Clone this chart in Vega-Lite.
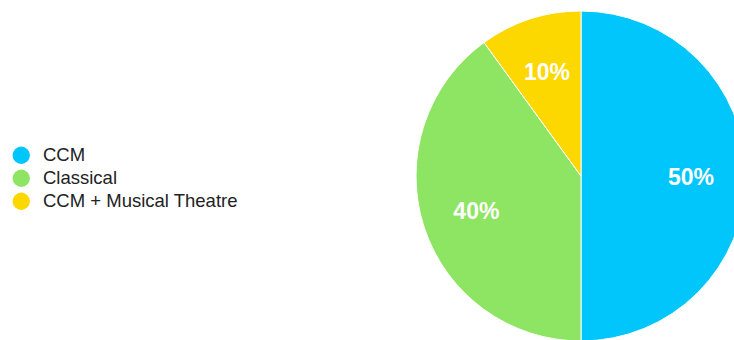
{
  "$schema": "https://vega.github.io/schema/vega-lite/v6.json",
  "width": 1162,
  "height": 352,
  "autosize": "none",
  "padding": 0,
  "background": "white",
  "config": {"view": {"stroke": null}, "font": "Liberation Sans"},
  "data": {"values": [
    {"genre": "CCM", "share": 50, "label": "50%", "ord": 1},
    {"genre": "Classical", "share": 40, "label": "40%", "ord": 2},
    {"genre": "CCM + Musical Theatre", "share": 10, "label": "10%", "ord": 3}
  ]},
  "encoding": {
    "theta": {"field": "share", "type": "quantitative", "stack": true},
    "order": {"field": "ord", "type": "quantitative"}
  },
  "layer": [
    {
      "mark": {"type": "arc", "outerRadius": 165, "stroke": "white", "strokeWidth": 1},
      "encoding": {
        "color": {
          "field": "genre", "type": "nominal",
          "sort": ["CCM", "Classical", "CCM + Musical Theatre"],
          "scale": {"domain": ["CCM", "Classical", "CCM + Musical Theatre"], "range": ["#00C6FB", "#8EE563", "#FDD700"]},
          "legend": {
            "title": null, "orient": "none", "legendX": 12, "legendY": 146,
            "symbolType": "circle", "symbolSize": 300, "symbolStrokeWidth": 0,
            "labelFontSize": 18.5, "labelColor": "#222222", "labelFont": "Liberation Sans",
            "labelLimit": 400, "rowPadding": 4, "labelOffset": 12.5
          }
        }
      }
    },
    {
      "mark": {"type": "text", "radius": 110, "dy": 2, "fontSize": 23, "fontWeight": "bold", "fill": "white", "font": "Liberation Sans"},
      "encoding": {"text": {"field": "label"}}
    }
  ]
}
